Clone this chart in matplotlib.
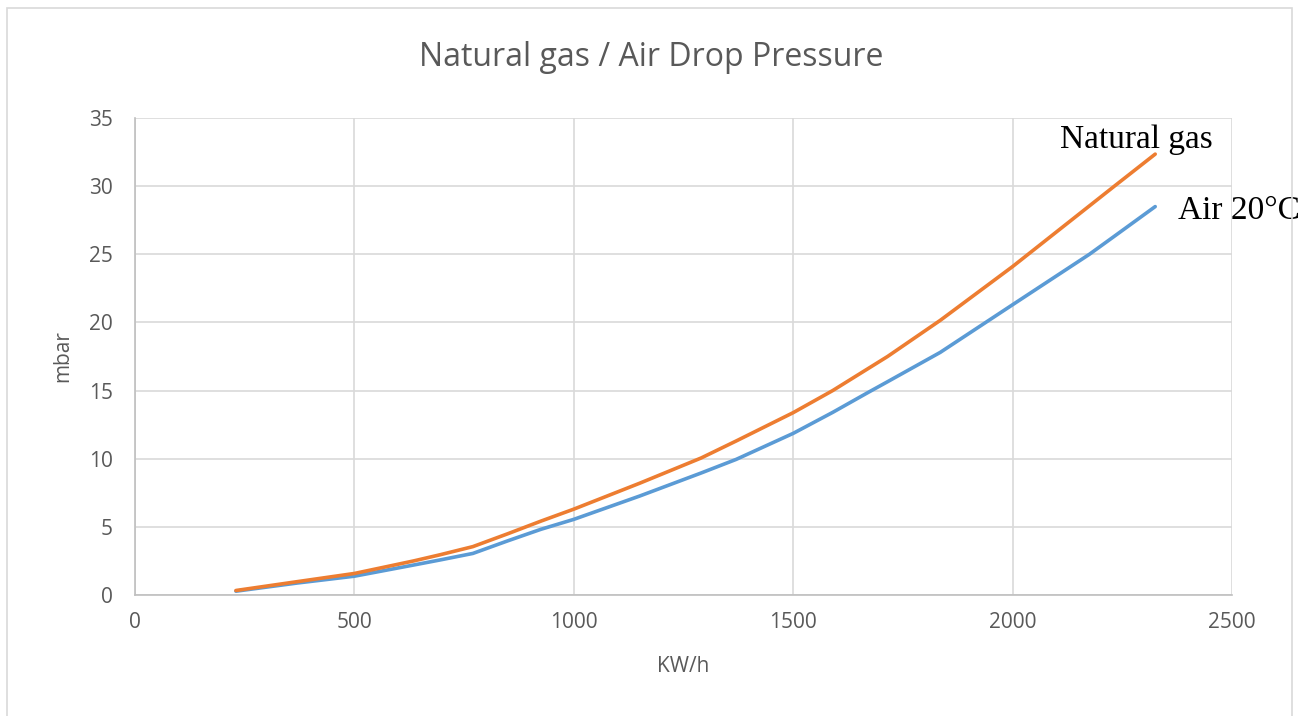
import numpy as np
import matplotlib
matplotlib.use('Agg')
from matplotlib import pyplot as plt
from matplotlib.patches import Rectangle

# data
kwh = [230, 370, 500, 635, 695, 770, 850, 925, 1000, 1150, 1290,
       1370, 1500, 1590, 1670, 1715, 1835, 2000, 2175, 2230, 2325]
natural_gas = [0.33, 0.98, 1.58, 2.5, 2.95, 3.55, 4.5, 5.42, 6.3, 8.2, 10.05,
               11.3, 13.38, 15.0, 16.6, 17.5, 20.15, 24.1, 28.55, 29.95, 32.35]
air_20c = [0.28, 0.88, 1.38, 2.2, 2.57, 3.05, 3.98, 4.82, 5.55, 7.26, 8.95,
           9.95, 11.86, 13.4, 14.85, 15.65, 17.8, 21.3, 25.0, 26.28, 28.5]

x_ticks = [0, 500, 1000, 1500, 2000, 2500]
y_ticks = [0, 5, 10, 15, 20, 25, 30, 35]

ORANGE = '#ED7D31'
BLUE = '#5B9BD5'
GREY_TEXT = '#595959'
GRID = '#D9D9D9'

plt.rcParams['font.family'] = ['Open Sans', 'DejaVu Sans']

W, H = 1303, 716
fig = plt.figure(figsize=(W / 100, H / 100), dpi=100)
ax = fig.add_axes([135 / W, 1 - 595 / H, (1232 - 135) / W, (595 - 118) / H])

ax.plot(kwh, air_20c, color=BLUE, lw=2.6, solid_capstyle='round',
        solid_joinstyle='round', zorder=3)
ax.plot(kwh, natural_gas, color=ORANGE, lw=2.6, solid_capstyle='round',
        solid_joinstyle='round', zorder=4)

ax.set_xlim(0, 2500)
ax.set_ylim(0, 35)
ax.set_xticks(x_ticks)
ax.set_yticks(y_ticks)
ax.grid(True, color=GRID, lw=1.2)
ax.set_axisbelow(True)
ax.tick_params(length=0, labelsize=15, colors=GREY_TEXT)
ax.tick_params(axis='x', pad=12)
ax.tick_params(axis='y', pad=16)

for side in ['top', 'right']:
    ax.spines[side].set_visible(False)
for side in ['left', 'bottom']:
    ax.spines[side].set_color('#BFBFBF')
    ax.spines[side].set_linewidth(1.2)

ax.set_xlabel('KW/h', fontsize=15, color=GREY_TEXT, va='center')
ax.xaxis.set_label_coords(0.5, (595 - 667) / 477)
ax.set_ylabel('mbar', fontsize=15, color=GREY_TEXT, va='center')
ax.yaxis.set_label_coords((63 - 135) / 1097, 0.5)

fig.text(0.5, 1 - 57 / H, 'Natural gas / Air Drop Pressure', ha='center', va='center',
         fontsize=23, color=GREY_TEXT)

# series labels in serif, like the reference
ax.text(2108, 32.8, 'Natural gas', fontsize=24, family='Liberation Serif',
        ha='left', va='baseline', color='black', clip_on=False)
ax.text(2377, 27.56, 'Air 20°C', fontsize=24, family='Liberation Serif',
        ha='left', va='baseline', color='black', clip_on=False)

# outer chart frame
fig.patches.append(Rectangle((7 / W, -0.02), (1292 - 7) / W, 1.02 - 8 / H,
                             transform=fig.transFigure, fill=False,
                             edgecolor=GRID, lw=1.2))

fig.savefig('out.png', dpi=100)
